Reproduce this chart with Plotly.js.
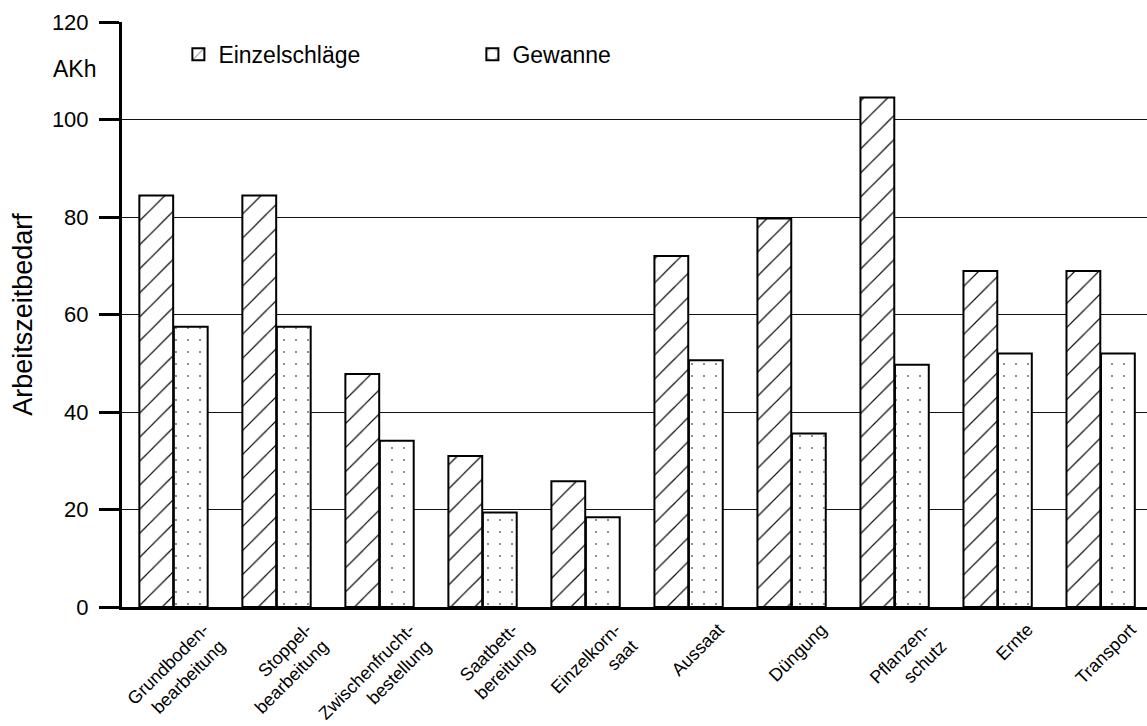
<!DOCTYPE html>
<html>
<head>
<meta charset="utf-8">
<script src="https://cdn.plot.ly/plotly-3.0.1.min.js"></script>
<style>html,body{margin:0;padding:0;background:#fff;}#chart{width:1147px;height:726px;}</style>
</head>
<body>
<div id="chart"></div>
<script>
const categories = [
  "Grundboden-<br>bearbeitung",
  "Stoppel-<br>bearbeitung",
  "Zwischenfrucht-<br>bestellung",
  "Saatbett-<br>bereitung",
  "Einzelkorn-<br>saat",
  "Aussaat",
  "Düngung",
  "Pflanzen-<br>schutz",
  "Ernte",
  "Transport"
];
const einzelschlaege = [84.4, 84.4, 47.8, 31.0, 25.8, 72.0, 79.7, 104.5, 68.9, 68.9];
const gewanne = [57.5, 57.5, 34.1, 19.4, 18.4, 50.6, 35.6, 49.7, 52.0, 52.0];
const seriesNames = ["Einzelschläge", "Gewanne"];
const yTicks = [0, 20, 40, 60, 80, 100, 120];

const FONT = "Liberation Sans, Arial, sans-serif";

const traces = [
  {
    type: "bar",
    name: seriesNames[0],
    x: categories,
    y: einzelschlaege,
    marker: {
      color: "white",
      line: {color: "black", width: 2},
      pattern: {shape: "/", size: 17, solidity: 0.07, fgcolor: "black", bgcolor: "white", fillmode: "replace"}
    },
    hoverinfo: "x+y"
  },
  {
    type: "bar",
    name: seriesNames[1],
    x: categories,
    y: gewanne,
    marker: {
      color: "white",
      line: {color: "black", width: 2},
      pattern: {shape: ".", size: 12, solidity: 0.015, fgcolor: "black", bgcolor: "white", fillmode: "replace"}
    },
    hoverinfo: "x+y"
  }
];

const layout = {
  width: 1147,
  height: 726,
  margin: {l: 122, r: 0, t: 22, b: 119, pad: 0},
  paper_bgcolor: "white",
  plot_bgcolor: "white",
  font: {family: FONT, color: "black", size: 22},
  barmode: "group",
  bargap: 0.33,
  bargroupgap: 0.02,
  showlegend: true,
  legend: {
    orientation: "h",
    x: 0.055, xanchor: "left",
    y: 0.945, yanchor: "middle",
    bgcolor: "rgba(0,0,0,0)",
    font: {family: FONT, size: 23, color: "black"},
    entrywidth: 249,
    entrywidthmode: "pixels",
    traceorder: "normal"
  },
  xaxis: {
    type: "category",
    range: [-0.5, 9.45],
    showline: true,
    linecolor: "black",
    linewidth: 3,
    showgrid: false,
    zeroline: false,
    ticks: "",
    tickangle: -45,
    tickfont: {family: FONT, size: 18, color: "black"},
    ticklabelshift: 30,
    ticklabelstandoff: 2,
    automargin: false
  },
  yaxis: {
    range: [0, 120],
    tickvals: yTicks,
    ticktext: yTicks.map(String),
    showline: true,
    linecolor: "black",
    linewidth: 3,
    showgrid: true,
    gridcolor: "#111",
    gridwidth: 1,
    zeroline: false,
    ticks: "outside",
    ticklen: 20,
    tickwidth: 3,
    tickcolor: "black",
    tickfont: {family: FONT, size: 22, color: "black"},
    ticklabelstandoff: 6,
    title: {text: "Arbeitszeitbedarf", font: {family: FONT, size: 27, color: "black"}, standoff: 12},
    automargin: false
  },
  annotations: [
    {
      text: "AKh",
      xref: "paper", yref: "y",
      x: -0.0234, y: 110.3,
      xanchor: "right", yanchor: "middle",
      showarrow: false,
      font: {family: FONT, size: 23, color: "black"}
    }
  ]
};

Plotly.newPlot("chart", traces, layout, {displayModeBar: false, staticPlot: true});
</script>
</body>
</html>
